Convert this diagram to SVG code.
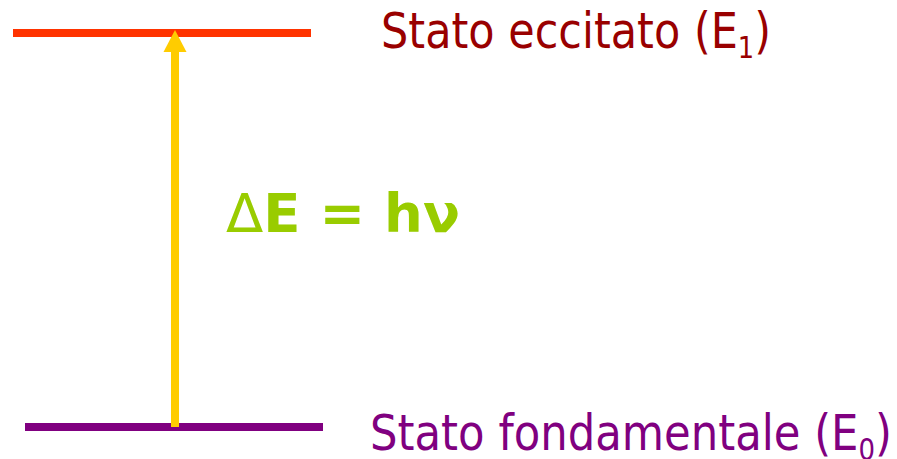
<svg xmlns="http://www.w3.org/2000/svg" width="897" height="459" viewBox="0 0 897 459">
<style>
.lbl{font-family:"DejaVu Sans","Liberation Sans",sans-serif;font-size:50px}
.eq{font-family:"DejaVu Sans","Liberation Sans",sans-serif;font-size:54px;font-weight:bold;fill:#99CC00}
</style>
<g id="excited">
<rect x="13" y="29" width="298" height="8" fill="#FF3300"/>
<text class="lbl" x="381" y="48" fill="#990000" textLength="390" lengthAdjust="spacingAndGlyphs">Stato eccitato (E<tspan font-size="30" dy="10">1</tspan><tspan dy="-10">)</tspan></text>
</g>
<g id="ground">
<rect x="25" y="423" width="298" height="8" fill="#800080"/>
<text class="lbl" x="370" y="450" fill="#800080" textLength="522" lengthAdjust="spacingAndGlyphs">Stato fondamentale (E<tspan font-size="30" dy="10">0</tspan><tspan dy="-10">)</tspan></text>
</g>
<g id="connectors">
<line x1="175" y1="427" x2="175" y2="52" stroke="#FFCC00" stroke-width="8"/>
<path d="M175,30 L186.5,52 L163.5,52 Z" fill="#FFCC00"/>
</g>
<g id="equation">
<text class="eq" x="226" y="232" textLength="234" lengthAdjust="spacingAndGlyphs"><tspan font-weight="normal">Δ</tspan>E = hν</text>
</g>
</svg>
